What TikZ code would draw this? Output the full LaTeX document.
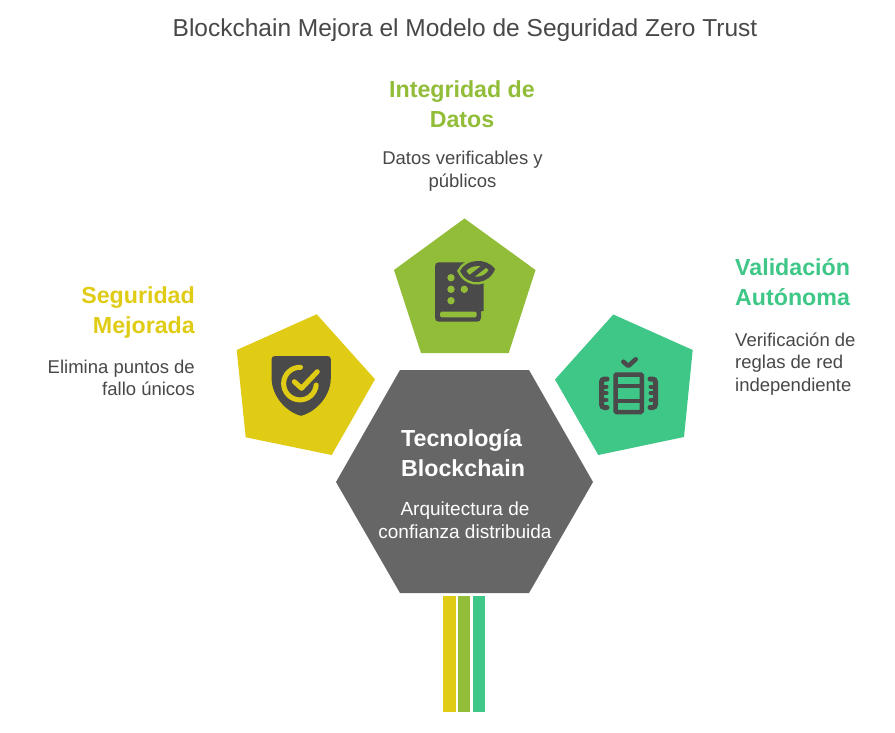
\documentclass[tikz,border=0pt]{standalone}
\usepackage{fontspec}
\setmainfont{Liberation Sans}
\definecolor{cyel}{HTML}{E0CB15}
\definecolor{cgrn}{HTML}{92BD39}
\definecolor{ctea}{HTML}{3EC786}
\definecolor{cgry}{HTML}{666666}
\definecolor{cdrk}{HTML}{4A4A4A}
\definecolor{ctxt}{HTML}{484848}
\tikzset{
  titletext/.style={inner sep=0pt,text=ctxt,font=\fontsize{24.5}{28}\selectfont},
  headtext/.style={inner sep=0pt,font=\fontsize{23.2}{30}\selectfont\bfseries},
  bodytext/.style={inner sep=0pt,text=ctxt,font=\fontsize{18.5}{22.7}\selectfont},
  centertext/.style={inner sep=0pt,text=white,font=\fontsize{19}{22.7}\selectfont},
  icondark/.style={fill=cdrk,draw=none},
}
\begin{document}
\begin{tikzpicture}[x=1pt,y=-1pt]
\path[use as bounding box,fill=white] (0,0) rectangle (895,733);
% pentagons
\fill[cyel] (316.7,314.3) -- (375,379.3) -- (331.7,455) -- (245.7,437.3) -- (236.7,350) -- cycle;
\fill[cgrn] (464.5,218.5) -- (535.5,270) -- (508.7,353) -- (421,353) -- (394,270) -- cycle;
\fill[ctea] (613.3,314.5) -- (692.7,350) -- (684,437) -- (598.3,455) -- (555,379.5) -- cycle;
% hexagon
\fill[cgry] (400,370) -- (529,370) -- (593,482) -- (529,593) -- (400,593) -- (336,482) -- cycle;
% bars
\fill[cyel] (443,596) rectangle (455.7,712);
\fill[cgrn] (457.7,596) rectangle (470.4,712);
\fill[ctea] (473,596) rectangle (485.4,712);
% shield icon
\fill[icondark] (275,356) -- (327.5,356) .. controls (329.7,356) and (330.8,357.2) .. (330.8,359.2)
  -- (330.8,378) .. controls (330.8,396) and (316,412) .. (301,415.8)
  .. controls (286,412) and (271.6,396) .. (271.6,378) -- (271.6,359.2)
  .. controls (271.6,357.2) and (272.8,356) .. (275,356) -- cycle;
\draw[cyel,line width=5pt,line cap=round] (300.5,367.3) arc[start angle=-88,end angle=-355,radius=16.3];
\draw[cyel,line width=5pt,line cap=round,line join=round] (294.3,381.7) -- (301.5,388.3) -- (317.3,371.7);
% book icon
\fill[icondark] (439,262.3) -- (480,262.3) -- (483.5,270) -- (483.5,311) -- (481,311) -- (481,317.5)
  .. controls (481,320.3) and (479.8,321.7) .. (477,321.7) -- (439,321.7)
  .. controls (436.4,321.7) and (435,320.3) .. (435,317.7) -- (435,266.3)
  .. controls (435,263.7) and (436.4,262.3) .. (439,262.3) -- cycle;
\fill[cgrn] (451,277.7) circle[radius=3.7] (451,289.3) circle[radius=3.7]
  (464.3,289.3) circle[radius=3.7] (451,300.7) circle[radius=3.7];
\fill[cgrn,rounded corners=1.5pt] (440,311.7) rectangle (476.7,317.3);
\path[fill=cgrn,draw=cgrn,line width=5pt] (460,271) .. controls (466,259) and (486,257) .. (495,269)
  .. controls (490,284) and (468,288) .. (460,271) -- cycle;
\fill[icondark] (460,271) .. controls (466,259) and (486,257) .. (495,269)
  .. controls (490,284) and (468,288) .. (460,271) -- cycle;
\fill[cgrn] (466.5,271) .. controls (470,265.5) and (483,264) .. (488.5,270)
  .. controls (484.5,277.5) and (471,280) .. (466.5,271) -- cycle;
\draw[cdrk,line width=4.5pt,line cap=round] (470,277.5) -- (484,266.5);
% table icon
\draw[cdrk,line width=4.5pt,rounded corners=1pt] (615.5,374.5) rectangle (641.8,412);
\draw[cdrk,line width=4pt] (615.5,385.7) -- (641.8,385.7) (615.5,400.7) -- (641.8,400.7);
\draw[cdrk,line width=4.5pt,line cap=round,line join=round] (623.3,361.7) -- (628.3,366) -- (635.7,359.3);
\draw[cdrk,line width=5pt,line cap=round,rounded corners=3pt] (607,379) -- (601.5,379) -- (601.5,407.5) -- (607,407.5);
\draw[cdrk,line width=4pt,line cap=round] (601.5,386.5) -- (606.5,386.5) (601.5,393.3) -- (606.5,393.3) (601.5,400) -- (606.5,400);
\draw[cdrk,line width=5pt,line cap=round,rounded corners=3pt] (650,379) -- (655.5,379) -- (655.5,407.5) -- (650,407.5);
\draw[cdrk,line width=4pt,line cap=round] (655.5,386.5) -- (650.5,386.5) (655.5,393.3) -- (650.5,393.3) (655.5,400) -- (650.5,400);
% texts
\node[titletext] (title) at (465,30.5) {Blockchain Mejora el Modelo de Seguridad Zero Trust};
\node[headtext,text=cgrn,align=center] (headI) at (462,104.5) {Integridad de\\Datos};
\node[bodytext,align=center] (bodyI) at (462.5,171) {Datos verificables y\\públicos};
\node[headtext,text=cyel,align=right,anchor=east] (headS) at (195,312.5) {Seguridad\\Mejorada};
\node[bodytext,align=right,anchor=east] (bodyS) at (195,378) {Elimina puntos de\\fallo únicos};
\node[headtext,text=ctea,align=left,anchor=west] (headV) at (735,282.5) {Validación\\Autónoma};
\node[bodytext,align=left,anchor=west] (bodyV) at (735,364) {Verificación de\\reglas de red\\independiente};
\node[headtext,text=white,align=left,anchor=west] (headT) at (401,453.5) {Tecnología\\Blockchain};
\node[centertext,align=center] (bodyT) at (465,520) {Arquitectura de\\confianza distribuida};
\end{tikzpicture}
\end{document}
